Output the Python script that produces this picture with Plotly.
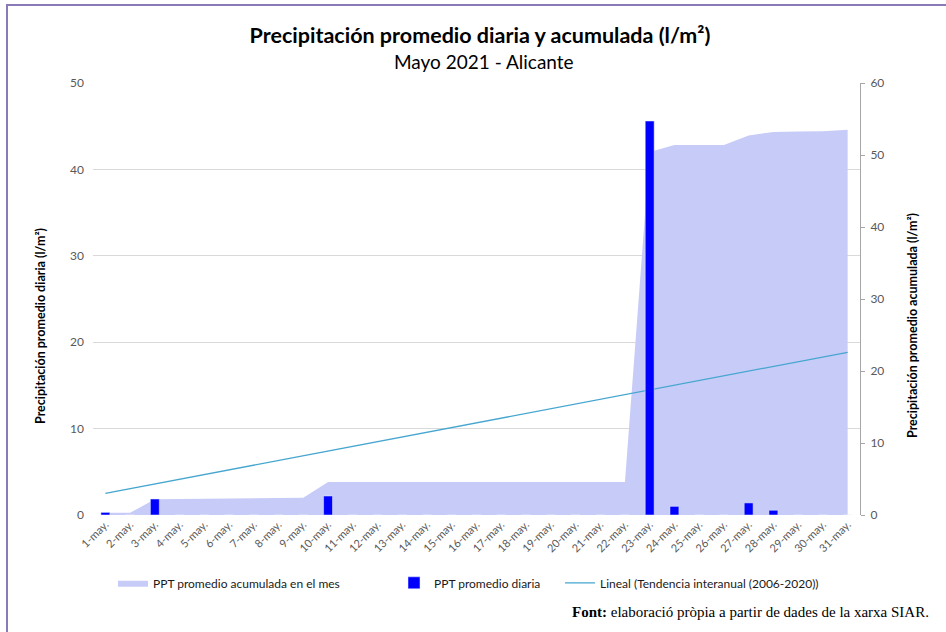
import plotly.graph_objects as go

dias = ["1-may.", "2-may.", "3-may.", "4-may.", "5-may.", "6-may.", "7-may.", "8-may.",
        "9-may.", "10-may.", "11-may.", "12-may.", "13-may.", "14-may.", "15-may.", "16-may.",
        "17-may.", "18-may.", "19-may.", "20-may.", "21-may.", "22-may.", "23-may.", "24-may.",
        "25-may.", "26-may.", "27-may.", "28-may.", "29-may.", "30-may.", "31-may."]

ppt_diaria = [0.3, 0, 1.85, 0, 0, 0, 0, 0, 0, 2.2, 0, 0, 0, 0, 0, 0,
              0, 0, 0, 0, 0, 0, 45.6, 1.0, 0, 0, 1.4, 0.55, 0, 0, 0]

ppt_acumulada = [0.3, 0.3, 2.2, 2.25, 2.25, 2.25, 2.3, 2.35, 2.4, 4.6, 4.6, 4.6, 4.6, 4.6, 4.6, 4.6,
                 4.6, 4.6, 4.6, 4.6, 4.6, 4.6, 50.4, 51.4, 51.4, 51.4, 52.7, 53.2, 53.25, 53.3, 53.5]

tendencia_x = ["1-may.", "31-may."]
tendencia_y = [3.0, 22.6]

FONT = "Lato"
GRIS = "#595959"

fig = go.Figure()

# area + trend on the right axis (y), bars on the left axis (y2) so bars sit on top
fig.add_trace(go.Scatter(x=dias, y=ppt_acumulada, mode="lines", fill="tozeroy",
                         line=dict(width=0, color="#C7CBF7"), fillcolor="#C7CBF7",
                         name="PPT promedio acumulada en el mes", yaxis="y", legend="legend"))
fig.add_trace(go.Scatter(x=tendencia_x, y=tendencia_y, mode="lines",
                         line=dict(width=1.3, color="#46A6D0"),
                         name="Lineal (Tendencia interanual (2006-2020))", yaxis="y", legend="legend3"))
fig.add_trace(go.Bar(x=dias, y=ppt_diaria, marker_color="#0000FF", width=0.36,
                     name="PPT promedio diaria", yaxis="y2", legend="legend2"))

leg = dict(orientation="h", yanchor="middle", y=-0.157, bgcolor="rgba(0,0,0,0)",
           font=dict(family=FONT, size=12, color="#1a1a1a"))

fig.update_layout(
    width=946, height=632,
    margin=dict(l=93, r=86, t=83, b=117),
    paper_bgcolor="white", plot_bgcolor="white",
    font=dict(family=FONT, color=GRIS),
    title=dict(text="<b>Precipitación promedio diaria y acumulada (l/m²)</b>",
               x=(480 - 93) / 767, xref="paper", xanchor="center",
               y=1 - 35 / 632, yref="container", yanchor="middle",
               font=dict(family=FONT, size=21.5, color="black")),
    xaxis=dict(type="category", tickangle=-45, tickfont=dict(size=11, color=GRIS),
               showgrid=False, showline=False, ticks="", range=[-0.5, 30.5]),
    yaxis=dict(side="right", range=[0, 60], dtick=10, showgrid=False, zeroline=False,
               showline=True, linecolor="#A6A6A6", linewidth=1, ticks="outside",
               ticklen=4, tickcolor="#A6A6A6", tickfont=dict(size=12, color=GRIS),
               ticklabelstandoff=3),
    yaxis2=dict(side="left", overlaying="y", range=[0, 50], dtick=10, showgrid=True,
                gridcolor="#D9D9D9", zeroline=False, showline=False,
                tickfont=dict(size=12, color=GRIS), ticklabelstandoff=8),
    legend=dict(leg, x=(113 - 93) / 767),
    legend2=dict(leg, x=(394 - 93) / 767),
    legend3=dict(leg, x=(560 - 93) / 767),
    bargap=0.64,
    showlegend=True,
)

fig.add_annotation(text="Mayo 2021 - Alicante", xref="paper", yref="paper",
                   x=(484 - 93) / 767, y=(515 - 62) / 432, xanchor="center", yanchor="middle",
                   showarrow=False, font=dict(family=FONT, size=19, color="black"))
fig.add_annotation(text="<b>Precipitación promedio diaria (l/m²)</b>", textangle=-90,
                   xref="paper", yref="paper", x=(40 - 93) / 767, y=(515 - 326) / 432,
                   xanchor="center", yanchor="middle",
                   showarrow=False, font=dict(family=FONT, size=12.5, color="black"))
fig.add_annotation(text="<b>Precipitación promedio acumulada (l/m²)</b>", textangle=-90,
                   xref="paper", yref="paper", x=(912 - 93) / 767, y=(515 - 326) / 432,
                   xanchor="center", yanchor="middle",
                   showarrow=False, font=dict(family=FONT, size=12.5, color="black"))
fig.add_annotation(text="<b>Font:</b> elaboració pròpia a partir de dades de la xarxa SIAR.",
                   xref="paper", yref="paper", x=(931 - 93) / 767, y=(515 - 612) / 432,
                   xanchor="right", yanchor="middle", showarrow=False,
                   font=dict(family="Liberation Serif", size=15, color="black"))

# purple frame round the picture
fig.add_shape(type="rect", xref="paper", yref="paper",
              x0=(7 - 93) / 767, x1=(960 - 93) / 767,
              y0=(515 - 650) / 432, y1=(515 - 5) / 432,
              line=dict(color="#8B7AB8", width=2), layer="below")

fig.write_html("out.html", config={"displayModeBar": False},
               post_script="document.body.style.margin='0';")
